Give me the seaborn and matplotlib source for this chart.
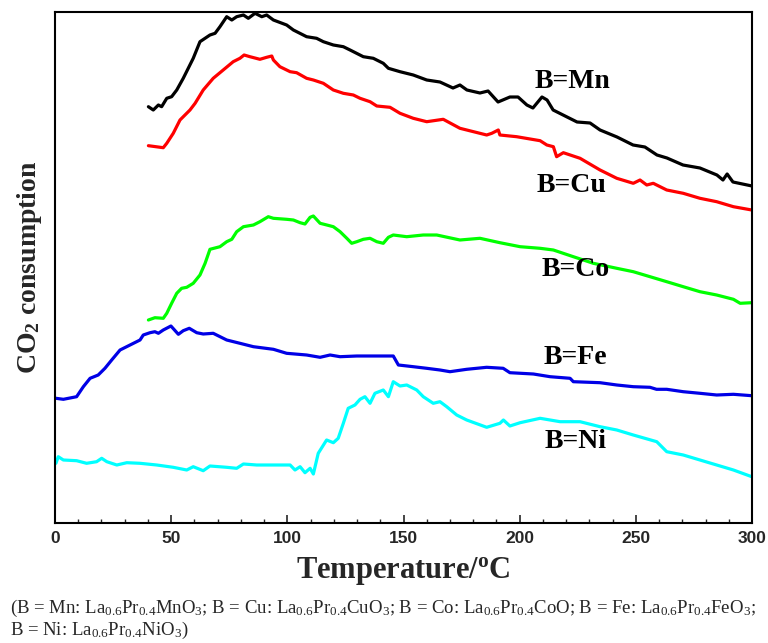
import matplotlib
matplotlib.use("Agg")
import matplotlib.pyplot as plt
import seaborn as sns
import pandas as pd
from matplotlib.ticker import MultipleLocator

# ---- data (x: temperature / °C, y: CO2 consumption, arbitrary units) ----
mn_x = [40.2, 42.3, 44.5, 45.9, 48.1, 50.2, 52.4, 55.2, 59.5, 62.4, 66.7, 68.9, 71.0, 73.9, 76.1, 78.2,
        81.1, 83.2, 86.1, 89.0, 91.1, 94.0, 99.7, 102.6, 108.3, 112.6, 115.5, 119.8, 124.1, 127.0, 132.7,
        137.0, 141.3, 143.5, 148.5, 154.2, 160.0, 165.7, 171.3, 174.3, 177.3, 182.9, 186.4, 190.7, 195.8,
        199.3, 203.1, 205.7, 209.6, 211.8, 214.4, 220.4, 224.7, 230.3, 234.6, 241.9, 248.8, 253.9, 259.1,
        263.4, 270.3, 277.6, 284.9, 287.5, 289.3, 291.8, 300.0]
mn_y = [416.3, 413, 418, 416.3, 424.7, 426.3, 433, 444.7, 464.7, 481.3, 488, 489.7, 496.3, 506.3, 503, 506.3,
        508, 504.7, 509.7, 506.3, 508, 503, 498, 493, 486.3, 484.7, 481.3, 478, 476.3, 473, 466.3,
        464.7, 459.7, 454.7, 451.3, 448, 443, 441, 435, 438, 433, 430, 432, 421, 426,
        426, 418, 415, 426, 423, 413, 406, 401, 400, 393, 386, 378, 376, 368,
        365, 358, 355, 348, 343, 349, 341, 337]

cu_x = [40.2, 46.6, 48.1, 50.9, 53.8, 58.1, 60.3, 63.8, 68.1, 72.4, 76.7, 79.6, 81.4, 83.9, 88.2, 91.1,
        93.3, 94.0, 96.8, 101.2, 104.0, 108.3, 111.2, 115.5, 119.8, 124.1, 128.4, 131.3, 135.6, 138.5,
        144.2, 148.5, 154.2, 160.0, 167.1, 174.3, 185.8, 188.0, 190.8, 191.5, 198.7, 208.8, 211.7, 214.5,
        215.9, 218.8, 226.0, 234.6, 241.8, 248.9, 251.8, 254.7, 257.5, 263.3, 270.4, 277.6, 284.8, 292.0, 299.9]
cu_y = [377.3, 375.3, 379.7, 389.7, 403, 413, 419.7, 433, 444.7, 453, 461.3, 464.7, 468, 466.3, 463.7, 465.7,
        467, 463, 456.3, 451.3, 450.3, 444.7, 443, 439.7, 433, 429.7, 428, 424.7, 421.3, 417,
        415.7, 409.7, 404.7, 401.3, 403.7, 394.7, 388, 389.7, 393, 388, 386.3, 382.3, 378, 376.3,
        366.3, 370.3, 364.7, 353, 344.7, 339.7, 343, 338, 339.7, 333, 329.7, 324.7, 321.3, 316.3, 313]

co_x = [40.2, 43.0, 46.6, 48.1, 50.2, 52.4, 54.5, 56.7, 59.5, 62.4, 64.6, 66.7, 71.0, 73.9, 76.1, 78.2,
        81.1, 85.4, 88.2, 91.8, 94.0, 99.7, 102.6, 105.5, 107.6, 109.8, 111.2, 114.1, 117.0, 119.8, 122.7,
        125.6, 127.7, 129.9, 132.7, 135.6, 138.5, 141.3, 143.5, 145.6, 151.4, 158.5, 164.3, 174.3, 182.9,
        191.5, 200.2, 208.8, 214.5, 223.1, 231.7, 241.8, 248.9, 256.1, 263.3, 270.4, 277.6, 284.8, 292.0,
        294.9, 299.9]
co_y = [203, 205.3, 204.7, 209.7, 219.7, 229.7, 234.7, 235.7, 239.7, 248, 259.7, 273.7, 276.3, 281.3, 283.7, 291.3,
        296.3, 298, 301.3, 306.3, 304.7, 303.7, 303, 300.3, 299, 305.7, 307, 299.7, 298, 296.3, 291.3,
        284.7, 279.7, 281.3, 283.7, 284.7, 281.3, 279.7, 285.7, 288, 286.3, 288, 288, 283, 284.7,
        280.3, 276.3, 274.7, 273, 266.3, 259.7, 254.7, 251.3, 246.3, 241.3, 236.3, 231.3, 228, 223.7,
        219.7, 220.3]

fe_x = [0.4, 3.6, 9.3, 12.2, 15.1, 18.6, 21.5, 24.4, 28.0, 32.3, 36.6, 38.0, 40.9, 43.0, 44.5, 46.6,
        49.9, 53.1, 55.2, 57.8, 61.0, 63.8, 68.1, 73.9, 79.6, 85.4, 94.0, 99.7, 108.3, 114.1, 118.4,
        122.7, 129.9, 137.0, 145.6, 147.8, 154.2, 160.0, 165.7, 170.0, 177.2, 185.8, 192.9, 195.8, 205.9,
        213.1, 221.7, 223.1, 234.6, 241.8, 248.9, 256.1, 258.9, 263.3, 270.4, 277.6, 284.8, 292.0, 299.9]
fe_y = [124.7, 123.7, 126.3, 136.3, 144.7, 148, 154.7, 163, 173, 178, 183, 188, 190.3, 191.3, 189.7, 193,
        197, 188.7, 192.3, 194.7, 190.3, 189, 189.7, 183, 179.7, 176.3, 173.7, 169.7, 168, 165.7, 168,
        166.3, 167, 167, 167, 158, 156.3, 154.7, 153, 151.3, 153.7, 155.7, 154.7, 150.3, 149,
        146.3, 144.7, 141.3, 140.3, 138, 136.3, 135.7, 133.7, 133.7, 131.3, 129.7, 128, 128.7, 127.3]

ni_x = [0.4, 1.4, 3.6, 9.3, 13.6, 17.9, 20.1, 22.3, 26.6, 30.9, 36.6, 43.8, 50.9, 56.7, 59.5, 63.8,
        66.7, 73.9, 78.2, 81.1, 86.8, 94.0, 101.2, 103.3, 105.5, 107.6, 109.8, 111.2, 113.3, 116.9, 119.8,
        121.9, 124.1, 126.2, 129.1, 131.3, 133.4, 135.6, 137.7, 141.3, 143.5, 145.6, 148.5, 151.4, 155.7,
        158.5, 162.8, 165.7, 168.6, 172.9, 177.2, 185.8, 191.5, 193.0, 195.8, 200.2, 208.8, 217.4, 226.0,
        234.6, 241.8, 248.9, 259.0, 263.3, 270.4, 277.6, 284.8, 292.0, 299.9]
ni_y = [59.7, 66.3, 63, 62.3, 59.7, 61.3, 64.7, 61.3, 58, 60.3, 59.7, 58, 55.7, 53, 56.3, 52.3,
        57, 55.7, 54.7, 59, 58, 58, 58, 53, 56.3, 50.3, 54.7, 49, 69.7, 83, 80.3,
        84.7, 99.7, 114.7, 118, 123.7, 126.3, 119.7, 129.7, 133, 126.3, 141.3, 137, 138, 133,
        126.3, 119.7, 121.3, 116.3, 108, 103, 95.7, 99.7, 103, 97, 100.3, 104.7, 101.3, 101.3,
        96.3, 93, 88, 81.3, 71.3, 68, 63, 58, 53, 46.3]

series_names = ["B=Mn", "B=Cu", "B=Co", "B=Fe", "B=Ni"]
series_colors = ["#000000", "#ff0000", "#00ff00", "#0000e6", "#00ffff"]
label_x = [222.5, 222.5, 224.3, 224.0, 224.0]
label_y = [442, 338, 253, 166, 81]
xticks = [0, 50, 100, 150, 200, 250, 300]

sns.set_theme(style="white")
plt.rcParams["mathtext.fontset"] = "custom"
plt.rcParams["mathtext.rm"] = "Liberation Serif"
plt.rcParams["mathtext.it"] = "Liberation Serif:italic"
plt.rcParams["mathtext.bf"] = "Liberation Serif:bold"

fig = plt.figure(figsize=(7.68, 6.43), dpi=100)
ax = fig.add_axes([55 / 768, 1 - 523 / 643, 697 / 768, 511 / 643])

data = [(mn_x, mn_y), (cu_x, cu_y), (co_x, co_y), (fe_x, fe_y), (ni_x, ni_y)]
for (xs, ys), name, col in zip(data, series_names, series_colors):
    df = pd.DataFrame({"T": xs, "v": ys})
    sns.lineplot(data=df, x="T", y="v", ax=ax, color=col, linewidth=2.3,
                 sort=False, estimator=None)

for name, lx, ly in zip(series_names, label_x, label_y):
    ax.text(lx, ly, name, fontsize=20, fontweight="bold", family="Liberation Serif",
            ha="center", va="center", color="black")

ax.set_xlim(0, 300)
ax.set_ylim(0, 511)
ax.set_xticks(xticks)
ax.xaxis.set_minor_locator(MultipleLocator(10))
ax.set_yticks([])
ax.tick_params(axis="x", which="major", direction="in", length=6, width=1.2, bottom=True,
               top=False, pad=6, labelsize=12.5)
ax.tick_params(axis="x", which="minor", direction="in", length=3, width=1.0, bottom=True, top=False)
for lab in ax.get_xticklabels():
    lab.set_fontweight("bold")
    lab.set_family("Liberation Sans")
for s in ax.spines.values():
    s.set_color("black")
    s.set_linewidth(1.5)

ax.set_xlabel(r"Temperature/$\mathbf{^{o}}$C", fontsize=22, fontweight="bold",
              family="Liberation Serif", labelpad=6)
ax.set_ylabel(r"CO$_{\mathbf{2}}$ consumption", fontsize=20, fontweight="bold",
              family="Liberation Serif", labelpad=8)

cap1 = (r"(B = Mn: La$_{\mathrm{0.6}}$Pr$_{\mathrm{0.4}}$MnO$_{\mathrm{3}}$; "
        r"B = Cu: La$_{\mathrm{0.6}}$Pr$_{\mathrm{0.4}}$CuO$_{\mathrm{3}}$; "
        r"B = Co: La$_{\mathrm{0.6}}$Pr$_{\mathrm{0.4}}$CoO; "
        r"B = Fe: La$_{\mathrm{0.6}}$Pr$_{\mathrm{0.4}}$FeO$_{\mathrm{3}}$;")
cap2 = r"B = Ni: La$_{\mathrm{0.6}}$Pr$_{\mathrm{0.4}}$NiO$_{\mathrm{3}}$)"
fig.text(10 / 768, 1 - 608 / 643, cap1, fontsize=13.5, family="Liberation Serif",
         ha="left", va="center")
fig.text(10 / 768, 1 - 630 / 643, cap2, fontsize=13.5, family="Liberation Serif",
         ha="left", va="center")

fig.savefig("out.png", dpi=100)
